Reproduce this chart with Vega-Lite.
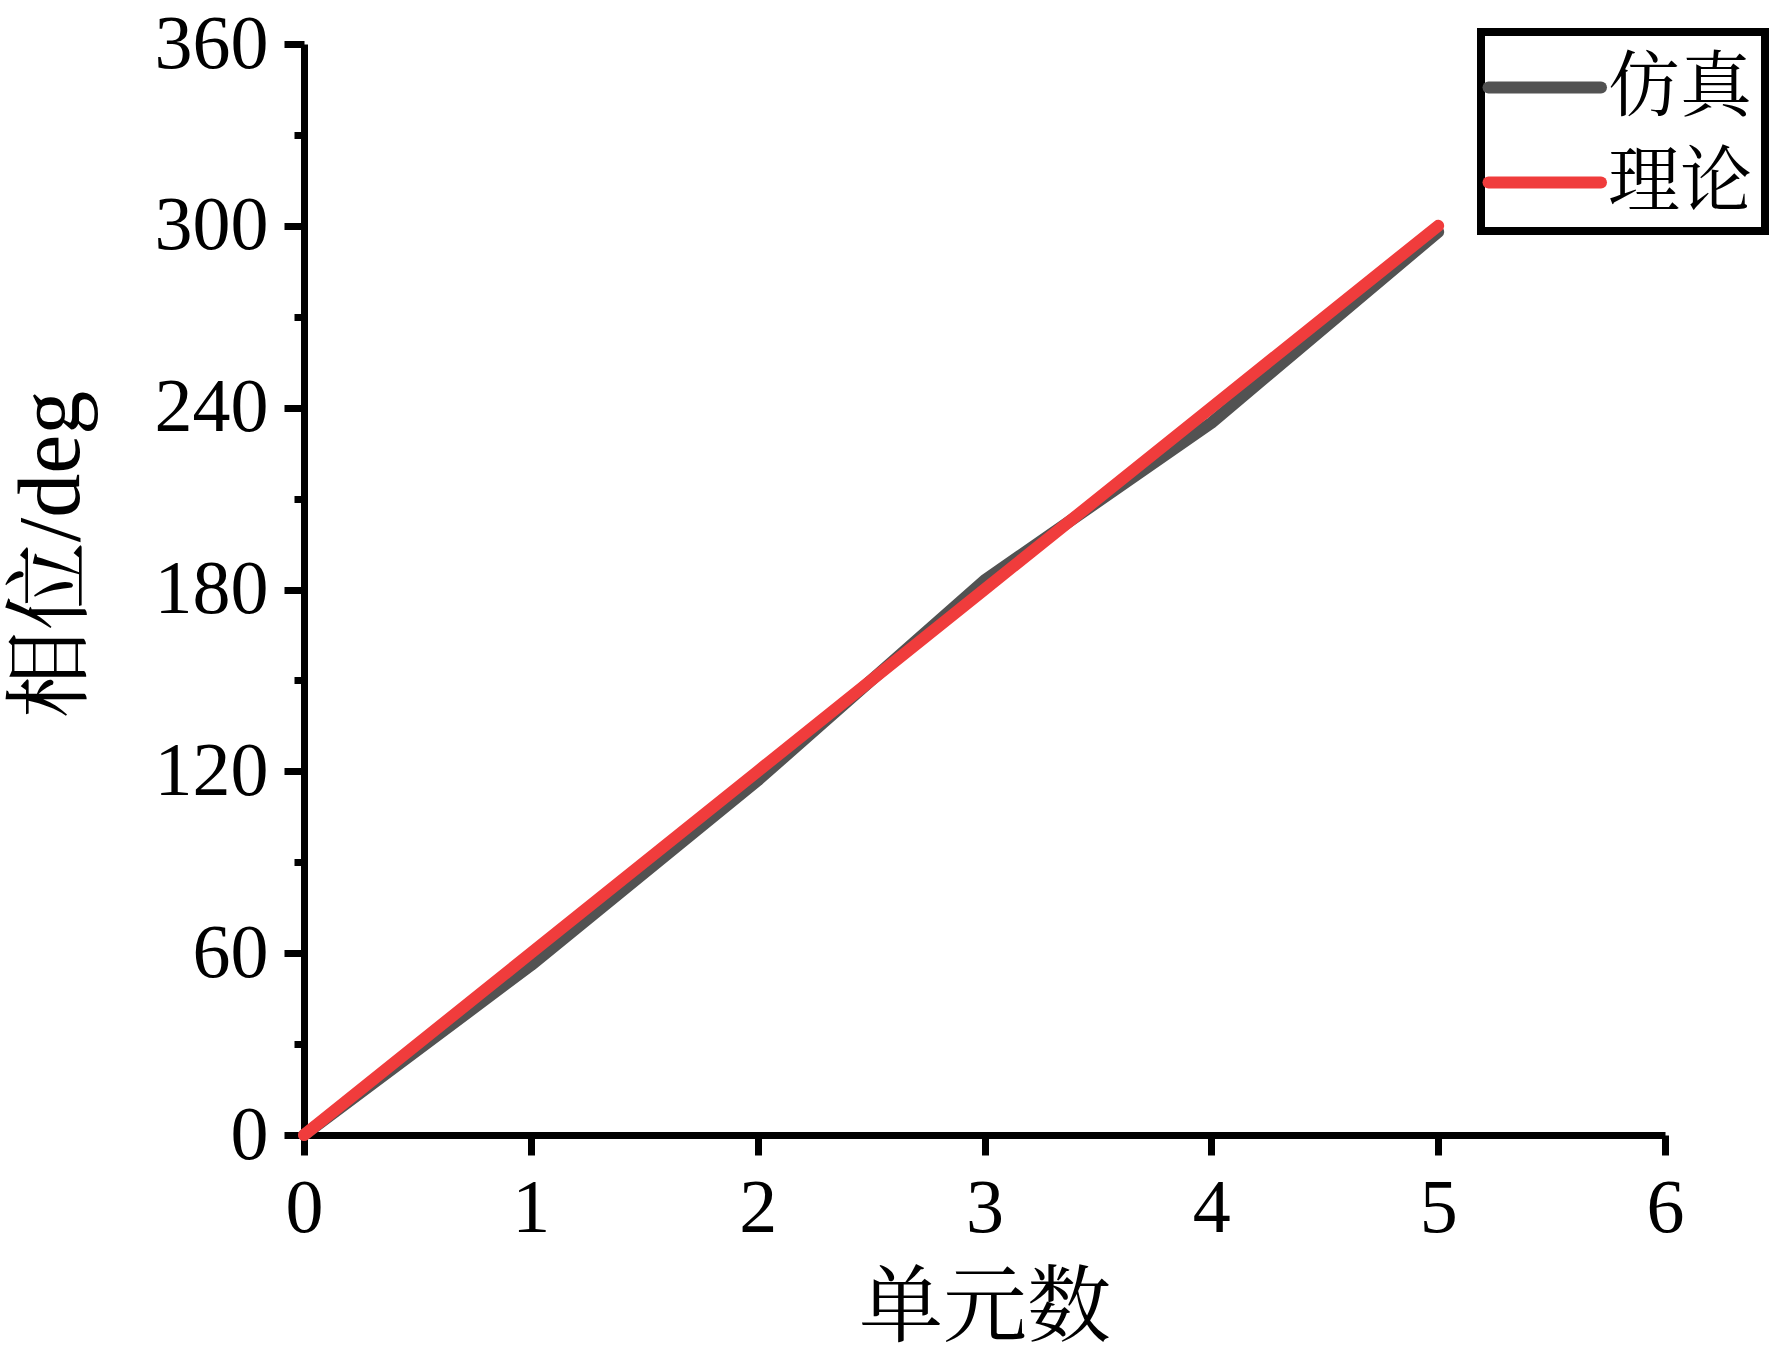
{
  "$schema": "https://vega.github.io/schema/vega-lite/v6.json",
  "width": 1361,
  "height": 1091,
  "autosize": {"type": "none"},
  "padding": {"left": 304, "top": 44, "right": 107, "bottom": 220},
  "background": "white",
  "config": {
    "view": {"stroke": null},
    "font": "Liberation Serif",
    "axis": {
      "grid": false,
      "domainColor": "black",
      "domainWidth": 7,
      "tickColor": "black",
      "tickWidth": 7,
      "labelColor": "black",
      "labelFont": "Liberation Serif",
      "labelFontSize": 76,
      "labelPadding": 16,
      "labelOverlap": false,
      "labelBound": false,
      "labelFlush": false,
      "titleColor": "black",
      "titleFont": "Liberation Serif, Noto Serif CJK SC, Noto Sans CJK SC",
      "titleFontSize": 88,
      "titleFontWeight": "normal"
    }
  },
  "data": {
    "values": [
      {"n": 0, "phase": 0, "series": "仿真"},
      {"n": 1, "phase": 56, "series": "仿真"},
      {"n": 2, "phase": 117, "series": "仿真"},
      {"n": 3, "phase": 183, "series": "仿真"},
      {"n": 4, "phase": 235, "series": "仿真"},
      {"n": 5, "phase": 298, "series": "仿真"},
      {"n": 0, "phase": 0, "series": "理论"},
      {"n": 1, "phase": 60, "series": "理论"},
      {"n": 2, "phase": 120, "series": "理论"},
      {"n": 3, "phase": 180, "series": "理论"},
      {"n": 4, "phase": 240, "series": "理论"},
      {"n": 5, "phase": 300, "series": "理论"}
    ]
  },
  "mark": {"type": "line", "strokeWidth": 12, "strokeCap": "round", "strokeJoin": "round"},
  "encoding": {
    "x": {
      "field": "n",
      "type": "quantitative",
      "scale": {"domain": [0, 6], "nice": false, "zero": false},
      "axis": {
        "title": "单元数",
        "values": [0, 0.5, 1, 1.5, 2, 2.5, 3, 3.5, 4, 4.5, 5, 5.5, 6],
        "format": "d",
        "labelExpr": "datum.value % 1 === 0 ? datum.label : ''",
        "tickSize": {"condition": {"test": "datum.value % 1 === 0", "value": 20}, "value": 10},
        "titleBaseline": "middle",
        "titleFontSize": 84,
        "titleY": 174
      }
    },
    "y": {
      "field": "phase",
      "type": "quantitative",
      "scale": {"domain": [0, 360], "nice": false, "zero": false},
      "axis": {
        "title": "相位/deg",
        "values": [0, 30, 60, 90, 120, 150, 180, 210, 240, 270, 300, 330, 360],
        "labelExpr": "datum.value % 60 === 0 ? datum.label : ''",
        "tickSize": {"condition": {"test": "datum.value % 60 === 0", "value": 20}, "value": 10},
        "titleBaseline": "middle",
        "titleAngle": -90,
        "titleX": -252,
        "titleY": 510
      }
    },
    "color": {
      "field": "series",
      "type": "nominal",
      "scale": {"domain": ["仿真", "理论"], "range": ["#525252", "#f03c3c"]},
      "legend": {
        "title": null,
        "orient": "none",
        "legendX": 1177,
        "legendY": -12,
        "symbolType": "M-1.28,0H1.72",
        "symbolSize": 5625,
        "symbolStrokeWidth": 12,
        "labelFont": "Liberation Serif, Noto Serif CJK SC, Noto Sans CJK SC",
        "labelFontSize": 72,
        "labelColor": "black",
        "labelOffset": 28,
        "rowPadding": 15,
        "padding": 12,
        "encode": {
          "legend": {"update": {"stroke": {"value": "black"}, "strokeWidth": {"value": 8}}},
          "symbols": {"update": {"strokeCap": {"value": "round"}}}
        }
      }
    }
  }
}
